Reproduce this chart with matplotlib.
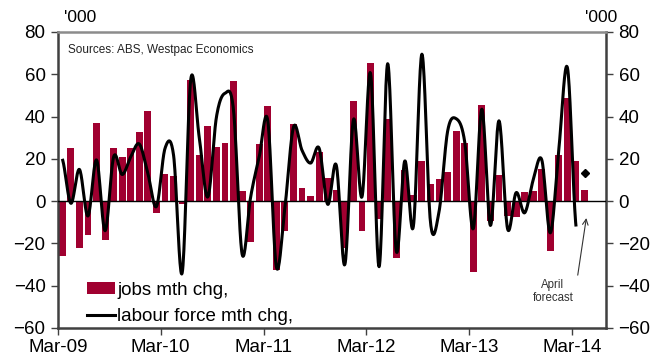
import numpy as np
import matplotlib
matplotlib.use("Agg")
import matplotlib.pyplot as plt
from matplotlib.patches import Patch
from matplotlib.lines import Line2D

plt.rcParams['font.family'] = ['Liberation Sans', 'DejaVu Sans']

# monthly changes, '000, Mar-09 .. Apr-14 (last bar is the April forecast)
jobs_chg = [-26, 25, -22, -16, 37, -18.5, 25, 21, 25, 32.5, 42.4, -5.5,
            13, 12, -1.3, 57.4, 21.6, 35.5, 25.5, 27.3, 56.7, 4.6, -19.4, 27,
            45, -32.4, -14, 36.3, 6.3, 2.4, 23.2, 11, 5.2, -22, 47.5, -14,
            65.4, -8.3, 38.8, -26.8, 14.8, 2.7, 18.8, 8, 10.6, 13.9, 33, 27.4,
            -33.6, 45.7, -9.6, 12.6, -7, -7.5, 4.1, 4.9, 15.1, -23.6, 22, 48.7,
            18.8, 5.5]

# labour force, Mar-09 .. Mar-14
labour_chg = [20, -1, 15, -7, 19.5, -14, 21, 12.6, 21, 27, 13, -2.5,
              25, 21.6, -34, 57.4, 30, 2, 39.7, 51, 43, -25, 2, 21,
              38, -31, -3, 35, 24, 18, 25, -1.5, 17, -30, 38.5, 2,
              60.5, -31, 65, -23.5, 19, -12, 69.5, -10, -5, 33, 39, 28,
              -13, 43.5, -11.5, 38, -13, 4, -5.5, 10, 19.5, -15, 25, 63,
              -12]

april_forecast = 13.4
year_labels = ['Mar-09', 'Mar-10', 'Mar-11', 'Mar-12', 'Mar-13', 'Mar-14']

bar_col = '#A00030'
frame_col = '#404040'


def smooth(y, n=20):
    # Catmull-Rom through each point (same shape as a spreadsheet "smoothed line")
    y = np.asarray(y, dtype=float)
    x = np.arange(len(y), dtype=float)
    yp = np.concatenate([[y[0]], y, [y[-1]]])
    xs, ys = [], []
    for i in range(len(y) - 1):
        p0, p1, p2, p3 = yp[i], yp[i + 1], yp[i + 2], yp[i + 3]
        t = np.linspace(0, 1, n, endpoint=False)
        seg = 0.5 * ((2 * p1) + (-p0 + p2) * t + (2 * p0 - 5 * p1 + 4 * p2 - p3) * t ** 2
                     + (-p0 + 3 * p1 - 3 * p2 + p3) * t ** 3)
        xs.append(x[i] + t)
        ys.append(seg)
    xs.append([x[-1]])
    ys.append([y[-1]])
    return np.concatenate(xs), np.concatenate(ys)


fig = plt.figure(figsize=(6.65, 3.6), dpi=100)
ax = fig.add_axes([58 / 665, 32 / 360, 548 / 665, 296 / 360])

idx = np.arange(len(jobs_chg))
ax.bar(idx, jobs_chg, width=0.8, color=bar_col, zorder=2)
ax.axhline(0, color='black', lw=1, zorder=3)

sx, sy = smooth(labour_chg)
ax.plot(sx, sy, color='black', lw=2.2, zorder=4, solid_capstyle='butt')

ax.plot(len(jobs_chg) - 1, april_forecast, marker='D', color='black', ms=4.2, zorder=5)

ax.set_xlim(-0.5, 63.5)
ax.set_ylim(-60, 80)
ax.set_yticks(np.arange(-60, 81, 20))
ax.set_xticks(np.arange(len(year_labels)) * 12 - 0.5)
ax.set_xticklabels(year_labels)

for s in ['left', 'right', 'bottom']:
    ax.spines[s].set_color(frame_col)
    ax.spines[s].set_linewidth(1.8)
ax.spines['top'].set_color('#8c8c8c')
ax.spines['top'].set_linewidth(1.8)

ax.tick_params(axis='y', which='both', left=True, right=True, labelleft=True,
               labelright=True, direction='out', length=5, width=1, color=frame_col,
               labelsize=13.5, pad=4)
ax.tick_params(axis='x', direction='out', length=5, width=1, color=frame_col,
               labelsize=13.5, pad=3)

fig.text(64 / 665, 1 - 17 / 360, "'000", fontsize=12.5, va='center', ha='left')
fig.text(617 / 665, 1 - 17 / 360, "'000", fontsize=12.5, va='center', ha='right')

ax.text(0.018, 0.94, 'Sources: ABS, Westpac Economics', transform=ax.transAxes,
        fontsize=8.5, color='#222222', va='center', ha='left')

# forecast note with its pointer
ax.text(57.3, -37, 'April\nforecast', fontsize=8.3, color='#333333',
        ha='center', va='top', linespacing=1.05)
ax.annotate('', xy=(61.2, -8), xytext=(60.2, -35),
            arrowprops=dict(arrowstyle='->', color='#333333', lw=0.8,
                            shrinkA=0, shrinkB=0))

handles = [Patch(facecolor=bar_col, edgecolor='none'),
           Line2D([0], [0], color='black', lw=2.2)]
ax.legend(handles, ['jobs mth chg,', 'labour force mth chg,'], loc='lower left',
          bbox_to_anchor=(0.029, -0.035), frameon=False, fontsize=13.5,
          handlelength=1.5, handleheight=0.6, handletextpad=0.1, labelspacing=0.5,
          borderpad=0.2)

fig.savefig('out.png', dpi=100)
